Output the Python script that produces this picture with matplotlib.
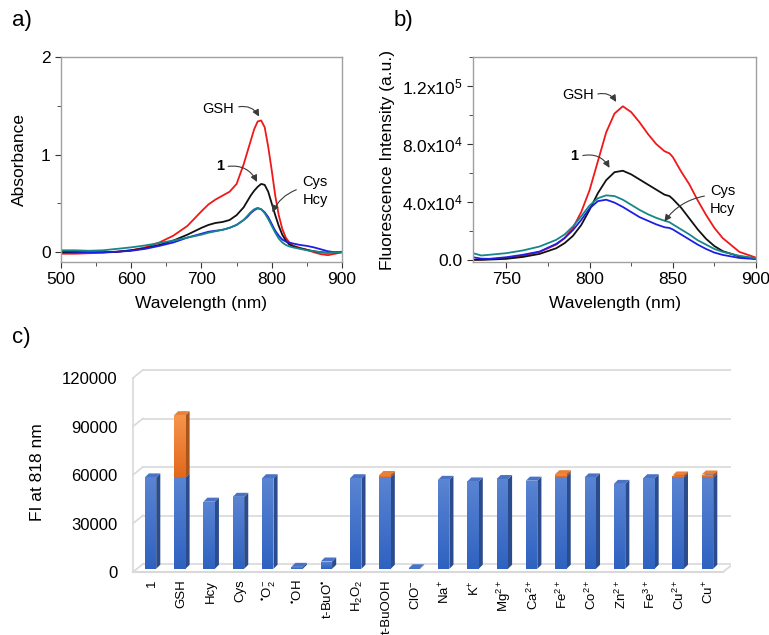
import numpy as np
import matplotlib
matplotlib.use('Agg')
import matplotlib.pyplot as plt
from matplotlib.patches import Polygon
from matplotlib.colors import LinearSegmentedColormap

plt.rcParams['font.family'] = ['Liberation Sans', 'DejaVu Sans']
plt.rcParams['mathtext.fontset'] = 'custom'
plt.rcParams['mathtext.rm'] = 'Liberation Sans'
plt.rcParams['mathtext.it'] = 'Liberation Sans:italic'
plt.rcParams['mathtext.bf'] = 'Liberation Sans:bold'

# ---- panel a: absorbance ----
wl_abs = [500, 520, 540, 560, 580, 600, 620, 640, 660, 680, 700, 710, 720, 730, 740,
          750, 760, 765, 770, 775, 780, 785, 790, 795, 800, 805, 810, 815, 820, 825,
          830, 840, 850, 860, 870, 880, 890, 900]
abs_gsh = [-0.015, -0.015, -0.01, -0.005, 0.005, 0.02, 0.05, 0.10, 0.17, 0.27, 0.42, 0.49,
           0.54, 0.58, 0.62, 0.70, 0.90, 1.02, 1.14, 1.26, 1.34, 1.35, 1.28, 1.08, 0.84,
           0.58, 0.38, 0.24, 0.15, 0.10, 0.07, 0.045, 0.025, 0.0, -0.02, -0.03, -0.015, 0.0]
abs_1 = [0.0, 0.0, 0.0, 0.0, 0.005, 0.02, 0.04, 0.075, 0.12, 0.18, 0.25, 0.28, 0.30, 0.31,
         0.33, 0.38, 0.46, 0.52, 0.58, 0.63, 0.67, 0.70, 0.69, 0.62, 0.50, 0.38, 0.27, 0.18,
         0.12, 0.08, 0.06, 0.04, 0.025, 0.01, 0.0, -0.005, 0.0, 0.0]
abs_hcy = [0.01, 0.005, 0.0, 0.0, 0.005, 0.015, 0.035, 0.065, 0.10, 0.15, 0.19, 0.21, 0.22,
           0.23, 0.25, 0.28, 0.33, 0.36, 0.40, 0.43, 0.45, 0.44, 0.41, 0.36, 0.29, 0.22,
           0.17, 0.13, 0.11, 0.10, 0.09, 0.075, 0.065, 0.05, 0.03, 0.01, 0.0, 0.005]
abs_cys = [0.02, 0.02, 0.015, 0.02, 0.035, 0.05, 0.07, 0.095, 0.12, 0.15, 0.18, 0.20, 0.215,
           0.23, 0.25, 0.28, 0.33, 0.37, 0.41, 0.44, 0.455, 0.44, 0.40, 0.34, 0.27, 0.20,
           0.14, 0.10, 0.075, 0.06, 0.05, 0.035, 0.02, 0.01, 0.0, -0.005, 0.0, 0.0]

# ---- panel b: fluorescence ----
wl_fl = [730, 735, 740, 750, 760, 770, 780, 785, 790, 795, 800, 805, 810, 815, 820, 825,
         830, 835, 840, 845, 848, 850, 855, 860, 865, 870, 875, 880, 890, 900]
fl_gsh = [0, 300, 500, 1100, 2800, 5500, 10500, 15000, 22000, 33000, 48000, 68000, 88000,
          101000, 106000, 102000, 95000, 87000, 80000, 75000, 73500, 71000, 61000, 52000,
          41000, 31000, 22000, 15000, 5500, 1500]
fl_1 = [0, 0, 200, 700, 2000, 4100, 8000, 11500, 16500, 24000, 34500, 46000, 55000, 60500,
        61500, 59000, 55500, 52000, 48500, 45000, 44000, 42000, 36000, 28500, 21000, 14500,
        9500, 6000, 2300, 700]
fl_cys = [4600, 3000, 3500, 4600, 6500, 9200, 13800, 17500, 23000, 30000, 37500, 42500,
          44500, 44000, 41500, 38000, 34500, 31500, 29000, 27000, 26000, 24500, 21000,
          17500, 13500, 10500, 7500, 5500, 2800, 1100]
fl_hcy = [1800, 800, 700, 1800, 3500, 5700, 11000, 15000, 20500, 27500, 35500, 40500,
          41500, 39500, 36500, 33000, 29500, 27000, 24500, 22500, 22000, 21000, 17500,
          14000, 10500, 7500, 5000, 3400, 1300, 500]

# ---- panel c: FI at 818 nm ----
analytes = ['1', 'GSH', 'Hcy', 'Cys', '$^{•}$O$_2^{-}$', '$^{•}$OH', 't-BuO$^{•}$',
            'H$_2$O$_2$', 't-BuOOH', 'ClO$^{-}$', 'Na$^{+}$', 'K$^{+}$', 'Mg$^{2+}$',
            'Ca$^{2+}$', 'Fe$^{2+}$', 'Co$^{2+}$', 'Zn$^{2+}$', 'Fe$^{3+}$', 'Cu$^{2+}$', 'Cu$^{+}$']
fi_probe = [56500, 56500, 41500, 44500, 56000, 1200, 4500, 56000, 56500, 300, 55000, 54000,
            55500, 54500, 57000, 56500, 52500, 56000, 56500, 56500]
fi_added = [0, 38500, 0, 0, 0, 0, 0, 0, 1500, 0, 0, 0, 0, 0, 1500, 0, 0, 0, 1200, 1800]

fig = plt.figure(figsize=(7.69, 6.35), dpi=100)

RED, BLACK, BLUE, TEAL = '#f01818', '#111111', '#1e1ee6', '#17868a'
SPINE = '#a0a0a0'


def style_spectrum(ax):
    for s in ax.spines.values():
        s.set_color(SPINE)
        s.set_linewidth(1.0)
    ax.tick_params(which='both', direction='out', color='#333333', labelsize=12.5)
    ax.tick_params(which='major', length=4)
    ax.tick_params(which='minor', length=3)
    ax.tick_params(top=False, right=False)


def label_arrow(ax, text, txy, start, end, rad, bold=False):
    ax.text(txy[0], txy[1], text, fontsize=10.5, ha='center', va='center',
            fontweight='bold' if bold else 'normal', linespacing=1.35)
    ax.annotate('', xy=end, xytext=start,
                arrowprops=dict(arrowstyle='-|>', color='#3a3a3a', lw=0.8, mutation_scale=10,
                                connectionstyle='arc3,rad=%s' % rad, shrinkA=0, shrinkB=0))


# panel a
ax1 = fig.add_axes([0.0793, 0.5874, 0.3654, 0.3228])
ax1.plot(wl_abs, abs_gsh, color=RED, lw=1.3)
ax1.plot(wl_abs, abs_1, color=BLACK, lw=1.3)
ax1.plot(wl_abs, abs_hcy, color=BLUE, lw=1.3)
ax1.plot(wl_abs, abs_cys, color=TEAL, lw=1.3)
ax1.set_xlim(500, 900)
ax1.set_ylim(-0.1, 2)
ax1.set_xticks([500, 600, 700, 800, 900])
ax1.set_xticks([550, 650, 750, 850], minor=True)
ax1.set_yticks([0, 1, 2])
ax1.set_yticks([0.5, 1.5], minor=True)
style_spectrum(ax1)
ax1.set_xlabel('Wavelength (nm)', fontsize=12.5, labelpad=6)
ax1.set_ylabel('Absorbance', fontsize=12.5, labelpad=10)
label_arrow(ax1, 'GSH', (723, 1.47), (753, 1.49), (782, 1.39), -0.35)
label_arrow(ax1, '1', (727, 0.88), (738, 0.88), (779, 0.72), -0.35, bold=True)
label_arrow(ax1, 'Cys\nHcy', (862, 0.63), (835, 0.64), (801, 0.41), 0.2)
fig.text(0.015, 0.968, 'a)', fontsize=16, va='center')

# panel b
ax2 = fig.add_axes([0.6151, 0.5874, 0.3680, 0.3228])
ax2.plot(wl_fl, fl_gsh, color=RED, lw=1.3)
ax2.plot(wl_fl, fl_1, color=BLACK, lw=1.3)
ax2.plot(wl_fl, fl_hcy, color=BLUE, lw=1.3)
ax2.plot(wl_fl, fl_cys, color=TEAL, lw=1.3)
ax2.set_xlim(730, 900)
ax2.set_ylim(-1500, 140000)
ax2.set_xticks([750, 800, 850, 900])
ax2.set_xticks([775, 825, 875], minor=True)
ax2.set_yticks([0, 40000, 80000, 120000])
ax2.set_yticklabels(['0.0', '4.0x10$^{4}$', '8.0x10$^{4}$', '1.2x10$^{5}$'])
ax2.set_yticks([20000, 60000, 100000, 140000], minor=True)
style_spectrum(ax2)
ax2.set_xlabel('Wavelength (nm)', fontsize=12.5, labelpad=6)
ax2.set_ylabel('Fluorescence Intensity (a.u.)', fontsize=12.5, labelpad=5)
label_arrow(ax2, 'GSH', (793, 114000), (805, 114500), (816, 109000), -0.35)
label_arrow(ax2, '1', (791, 71500), (796, 72000), (812, 63500), -0.35, bold=True)
label_arrow(ax2, 'Cys\nHcy', (880, 41500), (869, 44000), (845, 26500), 0.2)
fig.text(0.512, 0.968, 'b)', fontsize=16, va='center')

# panel c: Excel style 3D column chart
ax3 = fig.add_axes([0.1690, 0.0915, 0.7815, 0.3285])
ax3.set_xlim(-0.7, 19.8)
ax3.set_ylim(-3000, 126000)
for s in ax3.spines.values():
    s.set_visible(False)

GRID = '#d9d9d9'
wall_dx, wall_dy = 0.34, 4950
x_left, x_right = -0.6, 19.53
for v in [30000, 60000, 90000, 120000]:
    ax3.plot([x_left + wall_dx, x_right + wall_dx], [v + wall_dy, v + wall_dy], color=GRID, lw=1.2)
    ax3.plot([x_left, x_left + wall_dx], [v, v + wall_dy], color=GRID, lw=1.2)
ax3.plot([x_left, x_left], [0, 120000], color=GRID, lw=1.2)
ax3.plot([x_left + wall_dx, x_right + wall_dx], [wall_dy, wall_dy], color=GRID, lw=1.2)
ax3.plot([x_left, x_right], [0, 0], color=GRID, lw=1.5)
ax3.plot([x_left, x_left + wall_dx], [0, wall_dy], color=GRID, lw=1.2)
ax3.plot([x_right, x_right + wall_dx], [0, wall_dy], color=GRID, lw=1.2)


def col3d(ax, xc, y0, y1, front, side, top):
    w, dx, dy = 0.195, 0.14, 2500
    xl, xr = xc - w, xc + w
    ax.add_patch(Polygon([(xr, y0), (xr + dx, y0 + dy), (xr + dx, y1 + dy), (xr, y1)],
                         closed=True, fc=side, ec='none', zorder=3))
    ax.add_patch(Polygon([(xl, y1), (xr, y1), (xr + dx, y1 + dy), (xl + dx, y1 + dy)],
                         closed=True, fc=top, ec='none', zorder=3))
    face = Polygon([(xl, y0), (xr, y0), (xr, y1), (xl, y1)], closed=True, fc='none',
                   ec='none', zorder=3)
    ax.add_patch(face)
    grad = np.linspace(0, 1, 50).reshape(-1, 1)
    im = ax.imshow(grad, extent=[xl, xr, y0, y1], origin='lower', aspect='auto',
                   cmap=front, zorder=3, interpolation='bilinear')
    im.set_clip_path(face)


blue_cm = LinearSegmentedColormap.from_list('b', ['#2f62c0', '#5a84d3'])
orange_cm = LinearSegmentedColormap.from_list('o', ['#e2691b', '#f6954c'])

base = 2000
xs = np.arange(len(analytes))
for i in xs:
    top_b = base + fi_probe[i]
    col3d(ax3, i, base, top_b, blue_cm, '#2a4b8c', '#4a73c6')
    if fi_added[i] > 0:
        col3d(ax3, i, top_b, top_b + fi_added[i], orange_cm, '#a9541c', '#e8803a')

ax3.set_xlim(-0.7, 19.8)
ax3.set_ylim(-3000, 126000)
ax3.set_yticks([0, 30000, 60000, 90000, 120000])
ax3.set_yticklabels(['0', '30000', '60000', '90000', '120000'])
ax3.set_xticks(xs + 0.05)
ax3.set_xticklabels(analytes, rotation=90, fontsize=9.5)
ax3.tick_params(axis='both', length=0)
ax3.tick_params(axis='y', labelsize=12, pad=9)
ax3.tick_params(axis='x', pad=2)
ax3.set_ylabel('FI at 818 nm', fontsize=12.5, labelpad=12)
fig.text(0.015, 0.468, 'c)', fontsize=16, va='center')

fig.savefig('out.png', dpi=100)
